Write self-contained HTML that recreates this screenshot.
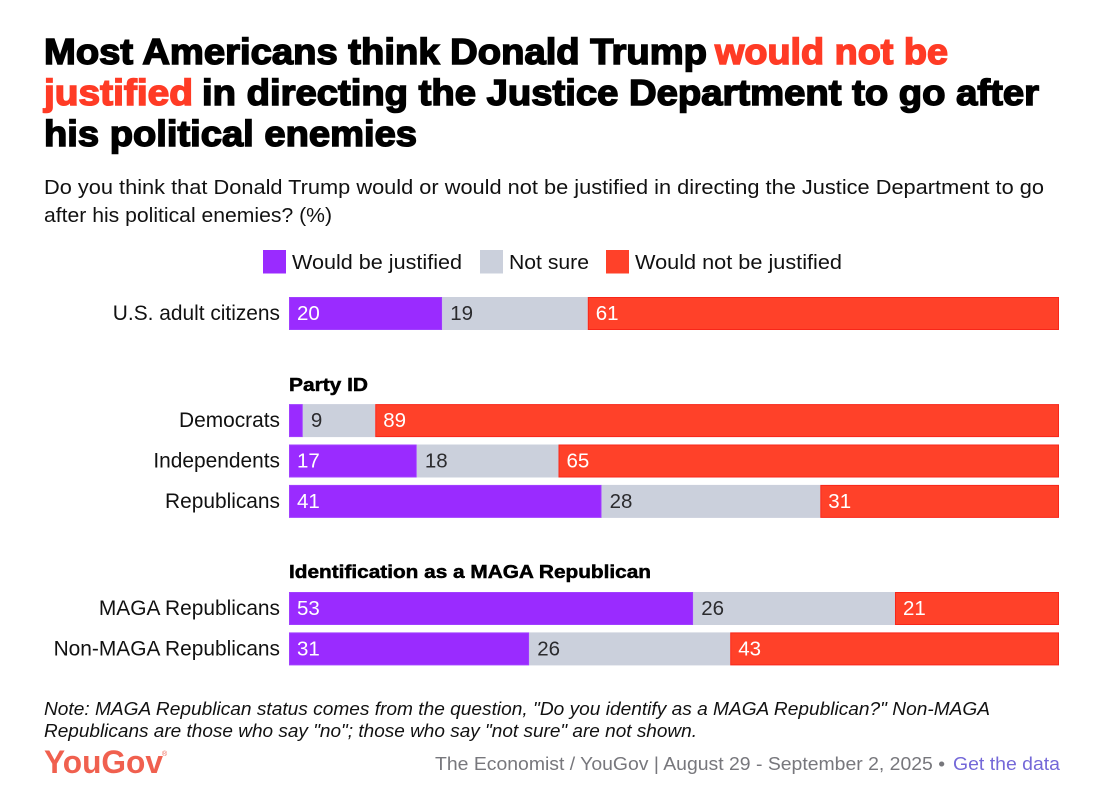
<!DOCTYPE html>
<html lang="en">
<head>
<meta charset="utf-8">
<title>YouGov chart</title>
<style>
html,body{margin:0;padding:0;background:#fff;width:1100px;height:812px;overflow:hidden}
svg{display:block;font-family:"Liberation Sans",sans-serif}
.title{font-size:36px;font-weight:700;stroke-width:1.5px;paint-order:stroke}
.sub{font-size:20px;fill:#111}
.leg{font-size:20.5px;fill:#111}
.note{font-size:18px;font-style:italic;fill:#111}
.foot{font-size:18px;fill:#77777c}
.row-label{font-size:20.9px;fill:#111}
.group{font-size:18px;font-weight:700;fill:#000;stroke:#000;stroke-width:.5px}
.val{font-size:20.5px}
</style>
</head>
<body>
<svg id="chart" width="1100" height="812" viewBox="0 0 1100 812" xmlns="http://www.w3.org/2000/svg">
  <rect width="1100" height="812" fill="#fff"/>
  <g>
    <text class="title" x="44" y="64" fill="#000" stroke="#000" textLength="663" lengthAdjust="spacingAndGlyphs">Most Americans think Donald Trump</text>
    <text class="title" x="715" y="64" fill="#ff3b25" stroke="#ff3b25" textLength="233" lengthAdjust="spacingAndGlyphs">would not be</text>
    <text class="title" x="44" y="105" fill="#ff3b25" stroke="#ff3b25" textLength="149" lengthAdjust="spacingAndGlyphs">justified</text>
    <text class="title" x="202" y="105" fill="#000" stroke="#000" textLength="837" lengthAdjust="spacingAndGlyphs">in directing the Justice Department to go after</text>
    <text class="title" x="44" y="146" fill="#000" stroke="#000" textLength="373" lengthAdjust="spacingAndGlyphs">his political enemies</text>
  </g>
  <g>
    <text class="sub" x="44" y="194" textLength="1000" lengthAdjust="spacingAndGlyphs">Do you think that Donald Trump would or would not be justified in directing the Justice Department to go</text>
    <text class="sub" x="44" y="222" textLength="288" lengthAdjust="spacingAndGlyphs">after his political enemies? (%)</text>
  </g>
  <g>
    <g>
      <rect x="263" y="250" width="23" height="23.5" fill="#9a2bff"/>
      <text class="leg" x="292" y="269" textLength="170" lengthAdjust="spacingAndGlyphs">Would be justified</text>
    </g>
    <g>
      <rect x="480" y="250" width="23" height="23.5" fill="#cbd0dc"/>
      <text class="leg" x="509" y="269" textLength="80" lengthAdjust="spacingAndGlyphs">Not sure</text>
    </g>
    <g>
      <rect x="606" y="250" width="23" height="23.5" fill="#ff4129"/>
      <text class="leg" x="635" y="269" textLength="207" lengthAdjust="spacingAndGlyphs">Would not be justified</text>
    </g>
  </g>
  <g id="plot"></g>
  <text class="group" x="289" y="391" textLength="79" lengthAdjust="spacingAndGlyphs">Party ID</text>
  <text class="group" x="289" y="578" textLength="362" lengthAdjust="spacingAndGlyphs">Identification as a MAGA Republican</text>
  <g>
    <text class="note" x="44" y="715" textLength="946" lengthAdjust="spacingAndGlyphs">Note: MAGA Republican status comes from the question, "Do you identify as a MAGA Republican?" Non-MAGA</text>
    <text class="note" x="44" y="737" textLength="653" lengthAdjust="spacingAndGlyphs">Republicans are those who say "no"; those who say "not sure" are not shown.</text>
  </g>
  <g>
    <text x="44" y="773" font-size="32" font-weight="700" fill="#f0604f" textLength="119" lengthAdjust="spacingAndGlyphs">YouGov</text>
    <text x="162" y="756" font-size="7" fill="#f0604f">®</text>
  </g>
  <text class="foot" x="435" y="770" textLength="510" lengthAdjust="spacingAndGlyphs">The Economist / YouGov | August 29 - September 2, 2025 •</text>
  <text class="foot" x="953" y="770" style="fill:#7468d8;cursor:pointer" textLength="107" lengthAdjust="spacingAndGlyphs">Get the data</text>
</svg>
<script>
const categories = ["U.S. adult citizens", "Democrats", "Independents", "Republicans", "MAGA Republicans", "Non-MAGA Republicans"];
const groupIndex = [0, 1, 1, 1, 2, 2];
const wouldBeJustified = [19.9, 1.8, 16.6, 40.6, 52.5, 31.2];
const notSure = [18.9, 9.4, 18.4, 28.4, 26.2, 26.1];
const wouldNotBeJustified = [61.2, 88.8, 65.0, 31.0, 21.3, 42.7];

const svgNS = "http://www.w3.org/2000/svg";
const plot = document.getElementById("plot");
const PLOT_LEFT = 289, PLOT_WIDTH = 770, BAR_HEIGHT = 33;
const xScale = v => PLOT_LEFT + v / 100 * PLOT_WIDTH;
const yBand = i => 297 + i * 40.4 + groupIndex[i] * 66.7;

function seg(i, start, value, fill, stroke, textFill, name) {
  const r = document.createElementNS(svgNS, "rect");
  
  
  r.setAttribute("x", xScale(start) + 0.5);
  r.setAttribute("y", yBand(i) + 0.5);
  r.setAttribute("width", Math.max(0, xScale(start + value) - xScale(start) - 1));
  r.setAttribute("height", BAR_HEIGHT - 1);
  r.setAttribute("fill", fill);
  r.setAttribute("stroke", stroke);
  r.setAttribute("stroke-width", "1");
  plot.appendChild(r);
  if (value >= 5) {
    const t = document.createElementNS(svgNS, "text");
    
    
    t.setAttribute("class", "val");
    t.setAttribute("x", xScale(start) + 8);
    t.setAttribute("y", yBand(i) + 23);
    t.setAttribute("fill", textFill);
    t.textContent = Math.round(value);
    plot.appendChild(t);
  }
}

categories.forEach((c, i) => {
  const l = document.createElementNS(svgNS, "text");
  
  
  l.setAttribute("class", "row-label");
  l.setAttribute("x", 280);
  l.setAttribute("y", yBand(i) + 23);
  l.setAttribute("text-anchor", "end");
  l.textContent = c;
  plot.appendChild(l);
  const a = wouldBeJustified[i], b = notSure[i], d = wouldNotBeJustified[i];
  seg(i, 0, a, "#9a2bff", "#a040ff", "#fff", "would-be-justified");
  seg(i, a, b, "#cbd0dc", "#cbd0dc", "#2b2b2e", "not-sure");
  seg(i, a + b, d, "#ff4129", "#f8261a", "#fff", "would-not-be-justified");
});
</script>
</body>
</html>
